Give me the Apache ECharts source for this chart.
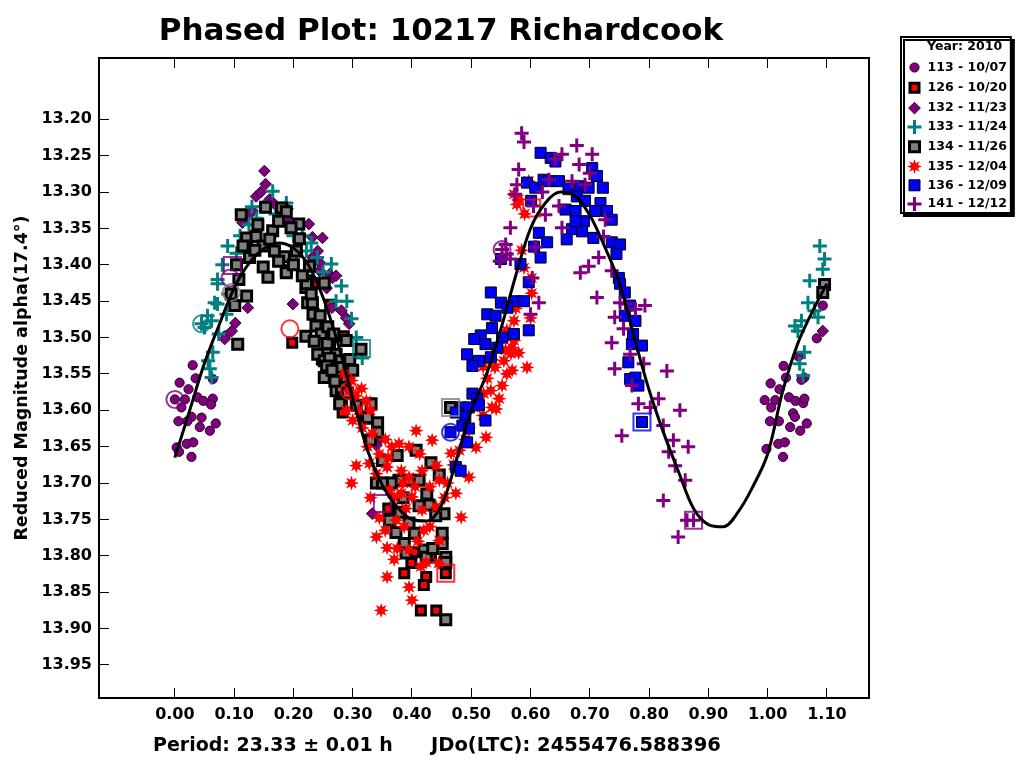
<!DOCTYPE html>
<html><head><meta charset="utf-8">
<script src="https://cdn.jsdelivr.net/npm/echarts@6/dist/echarts.min.js"></script>
<style>html,body{margin:0;padding:0;background:#fff}#c{width:1024px;height:768px}</style>
</head><body><div id="c"></div>
<script>
// ---------- DATA ----------
const xTicks = [0.00,0.10,0.20,0.30,0.40,0.50,0.60,0.70,0.80,0.90,1.00,1.10];
const yTicks = [13.20,13.25,13.30,13.35,13.40,13.45,13.50,13.55,13.60,13.65,13.70,13.75,13.80,13.85,13.90,13.95];
const sessionNames = ['113 - 10/07','126 - 10/20','132 - 11/23','133 - 11/24','134 - 11/26','135 - 12/04','136 - 12/09','141 - 12/12'];

const s113 = [[0.030,13.538],[0.008,13.562],[0.035,13.556],[0.023,13.571],[0.000,13.585],[0.017,13.585],[0.038,13.582],[0.048,13.587],[0.064,13.584],[0.061,13.592],[0.011,13.596],[0.028,13.609],[0.006,13.615],[0.021,13.615],[0.045,13.610],[0.042,13.623],[0.069,13.618],[0.059,13.628],[0.003,13.651],[0.020,13.646],[0.031,13.644],[0.028,13.664],[0.007,13.657],[0.064,13.557],[0.086,13.497],
[1.027,13.539],[1.005,13.563],[1.031,13.555],[1.020,13.571],[1.062,13.555],[0.995,13.586],[1.013,13.586],[1.036,13.582],[1.047,13.587],[1.060,13.590],[1.062,13.584],[1.006,13.596],[1.043,13.604],[1.046,13.609],[1.004,13.615],[1.019,13.615],[1.066,13.618],[1.038,13.623],[1.055,13.628],[0.998,13.653],[1.018,13.646],[1.029,13.644],[1.026,13.664],[1.093,13.456],[1.083,13.501],[1.057,13.558],[1.052,13.526]];
const s126 = [[0.198,13.507],[0.283,13.603],[0.387,13.824],[0.424,13.829],[0.399,13.810],[0.420,13.840],[0.415,13.875],[0.441,13.875],[0.457,13.824],[0.405,13.795],[0.432,13.800],[0.262,13.455],[0.285,13.498],[0.360,13.735],[0.240,13.425],[0.248,13.530]];
const s132 = [[0.151,13.271],[0.153,13.289],[0.137,13.306],[0.131,13.326],[0.126,13.330],[0.114,13.342],[0.226,13.344],[0.232,13.362],[0.249,13.363],[0.241,13.381],[0.232,13.390],[0.244,13.397],[0.261,13.413],[0.266,13.418],[0.199,13.454],[0.123,13.459],[0.102,13.480],[0.096,13.491],[0.084,13.502],[0.289,13.473],[0.294,13.481],[0.193,13.340],[0.190,13.323],[0.244,13.408],[0.272,13.415],[0.256,13.432],[0.265,13.459],[0.281,13.463],[0.343,13.641],[0.340,13.648],[0.333,13.742],[1.093,13.491],[0.145,13.300],[0.160,13.310],[0.170,13.318]];
const s133 = [[0.072,13.454],[0.087,13.468],[0.062,13.477],[0.050,13.486],[0.074,13.495],[0.064,13.520],[0.056,13.532],[0.059,13.543],[0.062,13.555],[0.072,13.426],[0.165,13.299],[0.089,13.374],[0.072,13.420],[0.067,13.452],[0.104,13.384],[0.138,13.336],[0.188,13.315],[0.205,13.388],[0.222,13.381],[0.264,13.399],[0.281,13.429],[0.272,13.450],[0.298,13.474],[0.306,13.500],[0.316,13.528],[0.125,13.345],[0.150,13.320],[0.240,13.390],[0.215,13.360],[0.045,13.481],[0.055,13.470],[0.110,13.360],[0.130,13.320],[0.170,13.330],[0.200,13.360],[0.230,13.370],[0.250,13.410],[0.290,13.450],[0.080,13.400],[0.090,13.440],
[1.088,13.374],[1.096,13.392],[1.093,13.406],[1.071,13.422],[1.068,13.452],[1.079,13.463],[1.046,13.484],[1.057,13.477],[1.051,13.491],[1.062,13.520],[1.054,13.536],[1.060,13.552],[1.085,13.472]];
const s134 = [[0.112,13.331],[0.153,13.321],[0.180,13.322],[0.188,13.327],[0.209,13.344],[0.165,13.353],[0.196,13.349],[0.210,13.364],[0.121,13.363],[0.137,13.361],[0.115,13.374],[0.149,13.374],[0.126,13.390],[0.168,13.381],[0.185,13.389],[0.205,13.381],[0.188,13.408],[0.149,13.403],[0.157,13.417],[0.227,13.402],[0.224,13.422],[0.221,13.431],[0.095,13.440],[0.121,13.443],[0.101,13.456],[0.106,13.509],[0.224,13.452],[0.233,13.468],[0.238,13.484],[0.221,13.498],[0.247,13.495],[0.261,13.509],[0.289,13.504],[0.241,13.523],[0.252,13.532],[0.272,13.523],[0.280,13.532],[0.255,13.555],[0.278,13.555],[0.314,13.516],[0.272,13.573],[0.188,13.411],[0.222,13.426],[0.252,13.425],[0.232,13.452],[0.257,13.508],[0.261,13.528],[0.256,13.539],[0.277,13.541],[0.252,13.555],[0.289,13.555],[0.283,13.573],[0.281,13.591],[0.281,13.569],[0.278,13.591],[0.331,13.591],[0.342,13.617],[0.342,13.630],[0.407,13.655],[0.375,13.662],[0.350,13.669],[0.432,13.672],[0.446,13.689],[0.412,13.696],[0.395,13.696],[0.378,13.696],[0.340,13.700],[0.429,13.730],[0.412,13.731],[0.454,13.742],[0.362,13.751],[0.373,13.768],[0.404,13.769],[0.451,13.769],[0.387,13.783],[0.451,13.783],[0.420,13.792],[0.390,13.796],[0.424,13.802],[0.457,13.802],[0.457,13.809],[0.457,13.888],[0.465,13.596],[0.291,13.576],[0.306,13.593],[0.320,13.611],[0.330,13.641],[0.104,13.400],[0.108,13.420],[1.096,13.427],[1.093,13.438],
[0.230,13.440],[0.245,13.470],[0.258,13.485],[0.268,13.495],[0.235,13.505],[0.265,13.545],[0.270,13.560],[0.295,13.530],[0.300,13.545],[0.215,13.415],[0.200,13.400],[0.175,13.395],[0.160,13.365],[0.135,13.380],[0.140,13.345],[0.175,13.340],[0.365,13.700],[0.385,13.720],[0.425,13.715],[0.440,13.745],[0.395,13.755],[0.435,13.790],[0.380,13.740],[0.350,13.700],[0.325,13.610]];
const s135 = [[0.294,13.573],[0.315,13.570],[0.323,13.587],[0.300,13.614],[0.316,13.624],[0.333,13.632],[0.407,13.628],[0.378,13.646],[0.306,13.676],[0.298,13.700],[0.328,13.673],[0.340,13.687],[0.358,13.678],[0.382,13.683],[0.395,13.692],[0.417,13.683],[0.441,13.676],[0.446,13.696],[0.362,13.710],[0.382,13.714],[0.400,13.719],[0.417,13.737],[0.441,13.733],[0.483,13.747],[0.345,13.748],[0.373,13.751],[0.340,13.774],[0.358,13.789],[0.395,13.792],[0.446,13.779],[0.424,13.809],[0.358,13.829],[0.395,13.843],[0.400,13.861],[0.348,13.875],[0.474,13.714],[0.496,13.692],[0.508,13.651],[0.525,13.637],[0.535,13.596],[0.434,13.641],[0.466,13.659],[0.413,13.660],[0.395,13.650],[0.366,13.650],[0.387,13.760],[0.420,13.765],[0.370,13.720],[0.355,13.640],
[0.577,13.317],[0.580,13.310],[0.572,13.303],[0.597,13.285],[0.589,13.404],[0.602,13.418],[0.602,13.439],[0.572,13.477],[0.600,13.473],[0.569,13.514],[0.567,13.522],[0.555,13.532],[0.594,13.541],
[0.558,13.517],[0.572,13.504],[0.540,13.541],[0.569,13.545],[0.552,13.566],[0.533,13.573],[0.547,13.584],[0.521,13.577],[0.510,13.593],[0.580,13.521],[0.527,13.556],[0.542,13.598],[0.520,13.607],[0.496,13.624],
[0.286,13.550],[0.298,13.559],[0.305,13.580],[0.289,13.600],[0.330,13.600],
[0.310,13.600],[0.325,13.650],[0.345,13.660],[0.360,13.665],[0.385,13.700],[0.405,13.705],[0.430,13.705],[0.455,13.720],[0.390,13.735],[0.355,13.765],[0.375,13.790],[0.410,13.780],[0.430,13.760],[0.460,13.700],[0.470,13.675],[0.480,13.655],[0.490,13.640],[0.370,13.805],[0.415,13.815],[0.445,13.810],[0.330,13.720],[0.520,13.540],[0.535,13.530],[0.560,13.490],[0.575,13.460],[0.585,13.380],[0.590,13.330],[0.560,13.550]];
const s136 = [[0.617,13.246],[0.634,13.253],[0.642,13.258],[0.704,13.267],[0.712,13.278],[0.594,13.287],[0.608,13.294],[0.622,13.283],[0.631,13.285],[0.648,13.285],[0.664,13.296],[0.684,13.292],[0.698,13.294],[0.722,13.294],[0.678,13.306],[0.692,13.312],[0.718,13.315],[0.659,13.324],[0.676,13.326],[0.709,13.326],[0.729,13.326],[0.737,13.338],[0.690,13.340],[0.614,13.356],[0.670,13.351],[0.687,13.354],[0.628,13.369],[0.661,13.365],[0.706,13.363],[0.737,13.369],[0.751,13.372],[0.606,13.375],[0.617,13.390],[0.550,13.392],[0.583,13.399],[0.749,13.418],[0.597,13.424],[0.751,13.426],[0.533,13.438],[0.759,13.438],[0.550,13.452],[0.574,13.450],[0.589,13.450],[0.561,13.459],[0.527,13.468],[0.541,13.470],[0.768,13.456],[0.777,13.477],[0.759,13.470],[0.535,13.487],[0.597,13.490],[0.572,13.495],[0.552,13.500],[0.516,13.497],[0.505,13.502],[0.524,13.509],[0.544,13.514],[0.771,13.509],[0.788,13.511],[0.493,13.523],[0.513,13.532],[0.533,13.527],[0.502,13.539],[0.765,13.534],[0.773,13.495],[0.768,13.557],[0.777,13.555],[0.782,13.566],[0.788,13.616],[0.502,13.577],[0.510,13.584],[0.485,13.596],[0.496,13.596],[0.513,13.593],[0.524,13.614],[0.490,13.609],[0.474,13.603],[0.485,13.621],[0.496,13.625],[0.465,13.630],[0.493,13.644],[0.474,13.678],[0.482,13.683],[0.676,13.340],[0.601,13.312],[0.745,13.385]];
const s141 = [[0.585,13.219],[0.589,13.231],[0.678,13.236],[0.704,13.248],[0.653,13.248],[0.641,13.255],[0.682,13.262],[0.580,13.269],[0.700,13.274],[0.670,13.285],[0.631,13.283],[0.692,13.290],[0.577,13.290],[0.574,13.303],[0.605,13.319],[0.625,13.331],[0.648,13.319],[0.726,13.338],[0.653,13.349],[0.566,13.349],[0.723,13.361],[0.558,13.372],[0.608,13.376],[0.566,13.392],[0.715,13.390],[0.698,13.402],[0.684,13.411],[0.737,13.408],[0.603,13.418],[0.712,13.445],[0.614,13.452],[0.751,13.452],[0.760,13.454],[0.600,13.468],[0.742,13.472],[0.777,13.461],[0.793,13.456],[0.757,13.488],[0.737,13.507],[0.768,13.523],[0.791,13.536],[0.742,13.543],[0.830,13.546],[0.771,13.566],[0.816,13.584],[0.782,13.591],[0.852,13.600],[0.802,13.596],[0.824,13.621],[0.754,13.635],[0.841,13.641],[0.866,13.650],[0.833,13.657],[0.844,13.676],[0.861,13.696],[0.824,13.724],[0.864,13.751],[0.875,13.751],[0.849,13.774],[0.552,13.379],[0.560,13.385],[0.548,13.395],[0.620,13.300]];

// first points of sessions, shown with open markers: [phase, mag, session]
const markCircles = [[0.000,13.585,'113'],[0.045,13.481,'133'],[0.093,13.418,'132'],[0.095,13.438,'134'],[0.194,13.488,'126'],[0.294,13.573,'135'],[0.465,13.630,'136'],[0.552,13.379,'141']];
const markSquares = [[0.097,13.401,'132'],[0.315,13.515,'133'],[0.350,13.728,'141'],[0.465,13.596,'134'],[0.457,13.824,'126'],[0.602,13.322,'135'],[0.788,13.616,'136'],[0.875,13.751,'141']];

// Fourier fit curve: [phase, mag]
const fitCurve = [[0.000,13.665],[0.025,13.600],[0.050,13.535],[0.075,13.482],[0.100,13.432],[0.125,13.398],[0.150,13.378],[0.175,13.370],[0.200,13.377],[0.225,13.400],[0.250,13.445],[0.275,13.508],[0.300,13.583],[0.325,13.655],[0.350,13.703],[0.375,13.733],[0.400,13.750],[0.425,13.752],[0.450,13.730],[0.475,13.668],[0.500,13.600],[0.525,13.552],[0.550,13.488],[0.575,13.415],[0.600,13.350],[0.625,13.315],[0.650,13.300],[0.675,13.305],[0.700,13.332],[0.725,13.375],[0.750,13.425],[0.775,13.500],[0.800,13.572],[0.825,13.632],[0.850,13.685],[0.875,13.735],[0.900,13.757],[0.925,13.760],[0.950,13.740],[0.975,13.705],[1.000,13.660],[1.025,13.575],[1.050,13.510],[1.075,13.465],[1.100,13.426]];

// ---------- STYLE ----------
const FONT = "'DejaVu Sans', sans-serif";
const PURPLE = '#800080', TEAL = '#008080', GRAY = '#808080', RED = '#ff0000', BLUE = '#0000ff';
const FRAME = 'M-8 -8 L-8 -8 M8 8 L8 8 ';
function sq(h){return `M${-h} ${-h} L${h} ${-h} L${h} ${h} L${-h} ${h} Z`;}
function circ(r){return `M${-r} 0 A${r} ${r} 0 1 1 ${r} 0 A${r} ${r} 0 1 1 ${-r} 0 Z`;}
function plus(a,t){return `M${-t} ${-a} L${t} ${-a} L${t} ${-t} L${a} ${-t} L${a} ${t} L${t} ${t} L${t} ${a} L${-t} ${a} L${-t} ${t} L${-a} ${t} L${-a} ${-t} L${-t} ${-t} Z`;}
function star(ro,ri){let p='';for(let k=0;k<16;k++){const r=k%2?ri:ro;const a=k*Math.PI/8-Math.PI/2;p+=(k?'L':'M')+(r*Math.cos(a)).toFixed(2)+' '+(r*Math.sin(a)).toFixed(2)+' ';}return p+'Z';}
const styles = [
  {sym:'path://'+FRAME+circ(4.6), color:PURPLE, border:'#2a002a', bw:1},
  {sym:'path://'+FRAME+sq(4.5), color:RED, border:'#000', bw:3},
  {sym:'path://'+FRAME+'M0 -5.8 L5.8 0 L0 5.8 L-5.8 0 Z', color:PURPLE, border:'#2a002a', bw:1},
  {sym:'path://'+FRAME+plus(7,1.5), color:TEAL, border:TEAL, bw:0},
  {sym:'path://'+FRAME+sq(5), color:GRAY, border:'#000', bw:3},
  {sym:'path://'+FRAME+star(7.5,3.6), color:RED, border:RED, bw:0},
  {sym:'path://'+FRAME+sq(5.5), color:BLUE, border:'#000', bw:1},
  {sym:'path://'+FRAME+plus(7,1.5), color:PURPLE, border:PURPLE, bw:0}
];
const seriesData = [s113,s126,s132,s133,s134,s135,s136,s141];
const sessColor = {'113':PURPLE,'126':RED,'132':PURPLE,'133':TEAL,'134':GRAY,'135':RED,'136':BLUE,'141':PURPLE};

const series = seriesData.map((d,i)=>({
  name: sessionNames[i], type:'scatter', data:d, symbol:styles[i].sym, symbolSize:16,
  itemStyle:{color:styles[i].color, borderColor:styles[i].border, borderWidth:styles[i].bw, opacity:1},
  silent:true, emphasis:{disabled:true}
}));
series.push({type:'line', data:fitCurve, smooth:0.35, showSymbol:false, lineStyle:{color:'#000', width:3}, silent:true, emphasis:{disabled:true}});
series.push({type:'scatter', data:markCircles.map(m=>({value:[m[0],m[1]], itemStyle:{borderColor:sessColor[m[2]]}})), symbol:'circle', symbolSize:17,
  itemStyle:{color:'none', borderWidth:2}, silent:true, emphasis:{disabled:true}});
series.push({type:'scatter', data:markSquares.map(m=>({value:[m[0],m[1]], itemStyle:{borderColor:sessColor[m[2]]}})), symbol:'rect', symbolSize:17,
  itemStyle:{color:'none', borderWidth:2}, silent:true, emphasis:{disabled:true}});

const axisLbl = {fontFamily:FONT, fontWeight:'bold', fontSize:16, color:'#000'};
const frameLine = {show:true, onZero:false, lineStyle:{color:'#000', width:2}};
const chart = echarts.init(document.getElementById('c'), null, {renderer:'canvas'});
const texts = [
  {type:'text', x:441, y:32, z:100, style:{text:'Phased Plot: 10217 Richardcook', fontFamily:FONT, fontWeight:'bold', fontSize:31, fill:'#000', align:'center', verticalAlign:'middle'}},
  {type:'text', x:22, y:378, z:100, rotation:Math.PI/2, style:{text:'Reduced Magnitude alpha(17.4°)', fontFamily:FONT, fontWeight:'bold', fontSize:17.5, fill:'#000', align:'center', verticalAlign:'middle'}},
  {type:'text', x:153, y:746, z:100, style:{text:'Period: 23.33 ± 0.01 h', fontFamily:FONT, fontWeight:'bold', fontSize:19, fill:'#000', align:'left', verticalAlign:'middle'}},
  {type:'text', x:431, y:746, z:100, style:{text:'JDo(LTC): 2455476.588396', fontFamily:FONT, fontWeight:'bold', fontSize:19.5, fill:'#000', align:'left', verticalAlign:'middle'}},
  {type:'text', x:927, y:47, z:100, style:{text:'Year: 2010', fontFamily:FONT, fontWeight:'bold', fontSize:12.5, fill:'#000', align:'left', verticalAlign:'middle'}}
];
chart.setOption({
  animation:false,
  backgroundColor:'#fff',
  grid:{left:99, right:155, top:58, bottom:70, show:false},
  xAxis:[
    {type:'value', min:-0.128, max:1.171, position:'bottom',
     axisLine:frameLine, splitLine:{show:false}, axisTick:{show:false},
     axisLabel:{customValues:xTicks, formatter:v=>v.toFixed(2), margin:9, ...axisLbl}},
    {type:'value', min:-0.128, max:1.171, position:'top',
     axisLine:frameLine, splitLine:{show:false}, axisTick:{show:false}, axisLabel:{show:false}}
  ],
  yAxis:[
    {type:'value', inverse:true, min:13.1157, max:13.9954, position:'left',
     axisLine:frameLine, splitLine:{show:false}, axisTick:{show:false},
     axisLabel:{customValues:yTicks, formatter:v=>v.toFixed(2), margin:7, ...axisLbl}},
    {type:'value', inverse:true, min:13.1157, max:13.9954, position:'right',
     axisLine:frameLine, splitLine:{show:false}, axisTick:{show:false}, axisLabel:{show:false}}
  ],
  legend:{
    data: sessionNames.map((n,i)=>({name:n, icon:styles[i].sym, itemStyle:{color:styles[i].color, borderColor:styles[i].border, borderWidth:styles[i].bw}})),
    orient:'vertical', left:901, top:37, itemWidth:16, itemHeight:16, itemGap:2.3, itemTextGap:6,
    padding:[22,4,1,4], backgroundColor:'#fff', borderColor:'#000', borderWidth:2,
    shadowColor:'#000', shadowOffsetX:3, shadowOffsetY:3, shadowBlur:0.01,
    selectedMode:false,
    textStyle:{fontFamily:FONT, fontWeight:'bold', fontSize:12.5, color:'#000'}
  },
  graphic: texts,
  series: series
});
// tick marks placed through the axes' own scales (inward, 10px)
const gridRect = {x0:99, x1:869, y0:58, y1:698};
const tickMarks = [];
yTicks.forEach(v=>{
  const py = Math.floor(chart.convertToPixel({yAxisIndex:0}, v));
  tickMarks.push({type:'rect', z:60, silent:true, shape:{x:gridRect.x0, y:py, width:10, height:1}, style:{fill:'#000'}});
});
xTicks.forEach(v=>{
  const px = Math.floor(chart.convertToPixel({xAxisIndex:0}, v));
  tickMarks.push({type:'rect', z:60, silent:true, shape:{x:px, y:gridRect.y1-10, width:1, height:10}, style:{fill:'#000'}});
  tickMarks.push({type:'rect', z:60, silent:true, shape:{x:px, y:gridRect.y0, width:1, height:10}, style:{fill:'#000'}});
});
chart.setOption({graphic: texts.concat(tickMarks)});
</script>
</body></html>
